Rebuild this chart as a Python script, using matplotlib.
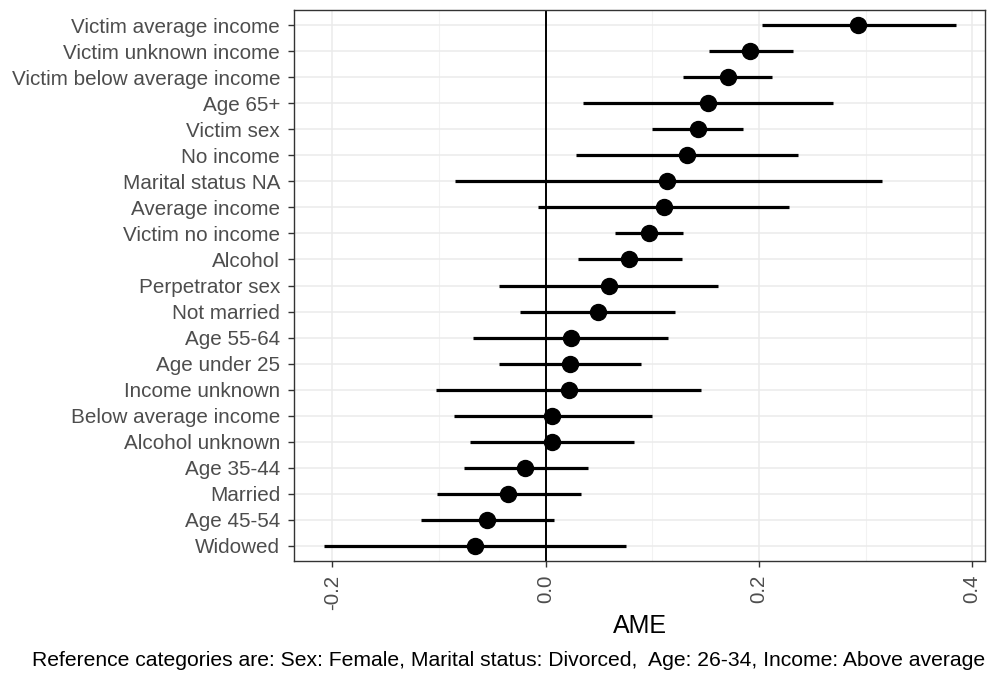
import matplotlib
matplotlib.use("Agg")
import matplotlib.pyplot as plt
import numpy as np

plt.rcParams['font.family'] = ['Liberation Sans', 'DejaVu Sans']

# categories from top to bottom
labels = ["Victim average income", "Victim unknown income", "Victim below average income",
          "Age 65+", "Victim sex", "No income", "Marital status NA", "Average income",
          "Victim no income", "Alcohol", "Perpetrator sex", "Not married", "Age 55-64",
          "Age under 25", "Income unknown", "Below average income", "Alcohol unknown",
          "Age 35-44", "Married", "Age 45-54", "Widowed"]
ame = [0.293, 0.192, 0.171, 0.152, 0.143, 0.133, 0.114, 0.111, 0.097, 0.078, 0.059,
       0.049, 0.024, 0.023, 0.022, 0.006, 0.006, -0.019, -0.035, -0.055, -0.066]
lower = [0.203, 0.153, 0.129, 0.035, 0.100, 0.028, -0.085, -0.007, 0.065, 0.030, -0.044,
         -0.024, -0.068, -0.044, -0.103, -0.086, -0.071, -0.077, -0.102, -0.117, -0.208]
upper = [0.385, 0.232, 0.212, 0.269, 0.185, 0.237, 0.315, 0.228, 0.129, 0.128, 0.162,
         0.121, 0.115, 0.089, 0.146, 0.100, 0.083, 0.040, 0.033, 0.008, 0.075]
caption = "Reference categories are: Sex: Female, Marital status: Divorced,  Age: 26-34, Income: Above average"

n = len(labels)
y = np.arange(n, 0, -1)

fig = plt.figure(figsize=(9.93, 6.74), dpi=100)
ax = fig.add_axes([294 / 993, 1 - 561 / 674, (985 - 294) / 993, (561 - 10) / 674])

# ggplot theme_bw-like grid
for xv in [-0.2, 0.0, 0.2, 0.4]:
    ax.axvline(xv, color='#EBEBEB', lw=1.1, zorder=0)
for xv in [-0.1, 0.1, 0.3]:
    ax.axvline(xv, color='#F2F2F2', lw=0.8, zorder=0)
for yv in y:
    ax.axhline(yv, color='#EBEBEB', lw=1.1, zorder=0)

ax.axvline(0, color='black', lw=1.4, zorder=1)
ax.hlines(y, lower, upper, color='black', lw=2.3, zorder=2)
ax.plot(ame, y, 'o', color='black', markersize=11.5, zorder=3)

ax.set_xlim(-0.236, 0.412)
ax.set_ylim(0.42, n + 0.58)
ax.set_yticks(y)
ax.set_yticklabels(labels)
ax.set_xticks([-0.2, 0.0, 0.2, 0.4])
ax.set_xticklabels(["-0.2", "0.0", "0.2", "0.4"], rotation=90)
ax.tick_params(axis='both', colors='#333333', labelcolor='#4D4D4D', labelsize=14.9,
               length=4, width=1)
ax.tick_params(axis='y', pad=6)
ax.tick_params(axis='x', pad=6)
for s in ax.spines.values():
    s.set_color('#333333')
    s.set_linewidth(1)

ax.set_xlabel("AME", fontsize=18, labelpad=3)
fig.text(985 / 993, 1 - 661 / 674, caption, ha='right', va='center', fontsize=15.2)

fig.savefig("out.png", dpi=100)
